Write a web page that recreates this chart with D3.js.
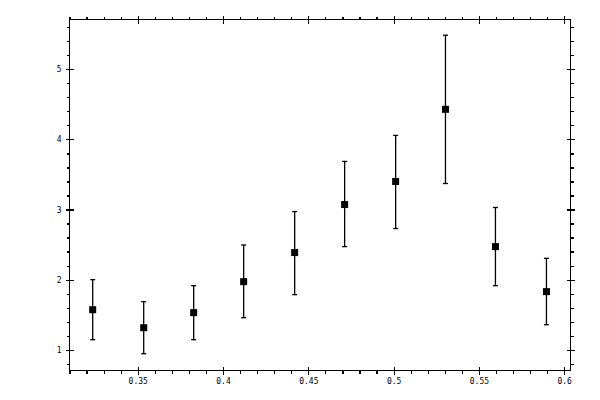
<!doctype html>
<html>
<head>
<meta charset="utf-8">
<title>Error bars</title>
<style>
  body { margin: 0; background: #fff; }
  .axis text { font-family: "DejaVu Sans Mono", monospace; font-size: 8px; fill: #000; }
  .axis path, .axis line { stroke: #000; stroke-width: 1.2px; shape-rendering: crispEdges; }
</style>
<script src="https://cdnjs.cloudflare.com/ajax/libs/d3/7.8.5/d3.min.js"></script>
</head>
<body>
<div id="chart"></div>
<script>
// data
const xVals = [0.3236, 0.3535, 0.3828, 0.4121, 0.4420, 0.4713, 0.5012, 0.5304, 0.5597, 0.5896];
const yVals = [1.571, 1.314, 1.529, 1.971, 2.386, 3.071, 3.400, 4.429, 2.471, 1.829];
const yHigh = [2.000, 1.686, 1.914, 2.494, 2.971, 3.686, 4.057, 5.486, 3.029, 2.304];
const yLow  = [1.143, 0.943, 1.143, 1.457, 1.786, 2.471, 2.729, 3.371, 1.914, 1.357];

// ticks
const xMajor = [0.35, 0.4, 0.45, 0.5, 0.55, 0.6];
const xLabels = ["0.35", "0.4", "0.45", "0.5", "0.55", "0.6"];
const xMinor = [0.31, 0.32, 0.33, 0.34, 0.36, 0.37, 0.38, 0.39, 0.41, 0.42, 0.43, 0.44,
                0.46, 0.47, 0.48, 0.49, 0.51, 0.52, 0.53, 0.54, 0.56, 0.57, 0.58, 0.59];
const yMajor = [1, 2, 3, 4, 5];
const yLabels = ["1", "2", "3", "4", "5"];
const yMinor = [0.8, 1.2, 1.4, 1.6, 1.8, 2.2, 2.4, 2.6, 2.8, 3.2, 3.4, 3.6, 3.8,
                4.2, 4.4, 4.6, 4.8, 5.2, 5.4, 5.6];

const W = 600, H = 400;
const pLeft = 69.5, pRight = 570.5, pTop = 19.5, pBottom = 370.5;

const svg = d3.select('#chart').append('svg')
  .attr('width', W).attr('height', H);

const x = d3.scaleLinear().domain([0.31, 0.6037]).range([pLeft, pRight]);
const y = d3.scaleLinear().domain([0.704, 5.71]).range([pBottom, pTop]);

// frame
svg.append('rect')
  .attr('x', pLeft).attr('y', pTop)
  .attr('width', pRight - pLeft).attr('height', pBottom - pTop)
  .attr('fill', 'none').attr('stroke', '#000').attr('stroke-width', 1.2)
  .attr('shape-rendering', 'crispEdges');

// helper: major ticks cross the line, minor only outside
function drawAxis(axisFn, scale, transform, major, minor, labels, dir) {
  // minor
  svg.append('g').attr('class', 'axis').attr('transform', transform)
    .call(axisFn(scale).tickValues(minor).tickSize(3).tickFormat(''))
    .call(g => g.select('.domain').remove());
  // major
  const g = svg.append('g').attr('class', 'axis').attr('transform', transform)
    .call(axisFn(scale).tickValues(major).tickSize(4)
      .tickFormat((d, i) => labels ? labels[i] : ''));
  g.select('.domain').remove();
  if (dir === 'v') g.selectAll('.tick line').attr('y1', -4).attr('y2', 4);
  else g.selectAll('.tick line').attr('x1', -4).attr('x2', 4);
  return g;
}

const gb = drawAxis(d3.axisBottom, x, `translate(0,${pBottom})`, xMajor, xMinor, xLabels, 'v');
gb.selectAll('.tick text').attr('y', 13).attr('dy', 0);

drawAxis(d3.axisTop, x, `translate(0,${pTop})`, xMajor, xMinor, null, 'v');

const gl = drawAxis(d3.axisLeft, y, `translate(${pLeft},0)`, yMajor, yMinor, yLabels, 'h');
gl.selectAll('.tick text').attr('x', -8).attr('dy', '0.32em');

drawAxis(d3.axisRight, y, `translate(${pRight},0)`, yMajor, yMinor, null, 'h');

// error bars
const pts = xVals.map((v, i) => ({ x: v, y: yVals[i], lo: yLow[i], hi: yHigh[i] }));
const capW = 2.5;

const bars = svg.append('g').attr('stroke', '#000').attr('stroke-width', 1.3);
bars.selectAll('line.stem').data(pts).join('line').attr('class', 'stem')
  .attr('x1', d => x(d.x)).attr('x2', d => x(d.x))
  .attr('y1', d => y(d.hi)).attr('y2', d => y(d.lo));
bars.selectAll('line.capT').data(pts).join('line').attr('class', 'capT')
  .attr('x1', d => x(d.x) - capW).attr('x2', d => x(d.x) + capW)
  .attr('y1', d => y(d.hi)).attr('y2', d => y(d.hi));
bars.selectAll('line.capB').data(pts).join('line').attr('class', 'capB')
  .attr('x1', d => x(d.x) - capW).attr('x2', d => x(d.x) + capW)
  .attr('y1', d => y(d.lo)).attr('y2', d => y(d.lo));

// square markers
const ms = 7;
svg.append('g').selectAll('rect').data(pts).join('rect')
  .attr('x', d => x(d.x) - ms / 2).attr('y', d => y(d.y) - ms / 2)
  .attr('width', ms).attr('height', ms)
  .attr('fill', '#000');
</script>
</body>
</html>
